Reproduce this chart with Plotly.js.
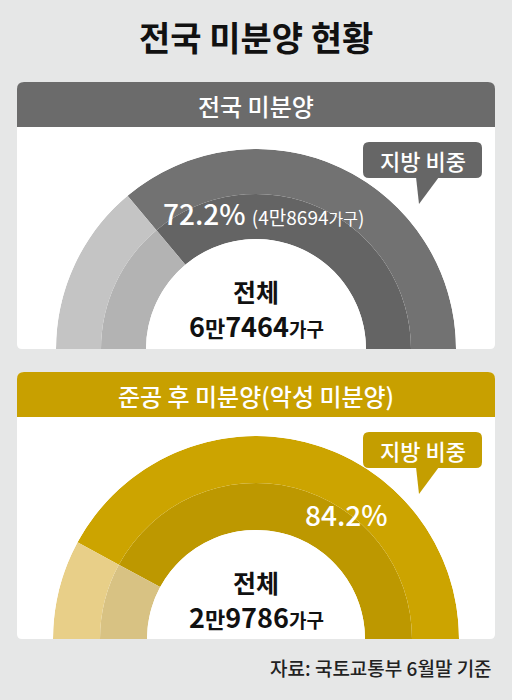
<!DOCTYPE html>
<html>
<head>
<meta charset="utf-8">
<script src="https://cdn.plot.ly/plotly-3.0.1.min.js"></script>
<style>
  html, body { margin: 0; padding: 0; background: #e6e7e7; overflow: hidden; }
  #chart { width: 512px; height: 700px; }
</style>
</head>
<body>
<div id="chart"></div>
<script>
// ---------- data ----------
const mainTitle = '전국 미분양 현황';
const panelTitles = ['전국 미분양', '준공 후 미분양(악성 미분양)'];
const segmentLabels = ['지방', '수도권'];
const localShares = [72.2, 84.2];          // 지방 비중 (%)
const localUnits = [48694, null];          // 지방 가구수
const totalUnits = [67464, 29786];         // 전체 가구수
const calloutText = '지방 비중';
const totalLabel = '전체';
const sourceText = '자료: 국토교통부 6월말 기준';

// ---------- styling ----------
const W = 512, H = 700;
const FONT = '"Noto Sans CJK KR", "Noto Sans", sans-serif';
const BG = '#e6e7e7';
const themes = [
  { header: '#6b6b6b', callout: '#666666',
    local: ['#646464', '#727272'], capital: ['#b3b3b3', '#c4c4c4'] },
  { header: '#c8a000', callout: '#c49e00',
    local: ['#bd9800', '#cca400'], capital: ['#d8c283', '#e8cf88'] }
];
const geo = [
  { top: 82, bottom: 349, headerBottom: 127, cx: 256, cy: 349, R: 200, hole: 0.55,
    calloutTop: 142, pctX: 263, pctY: 213, totalY: 291 },
  { top: 372, bottom: 639, headerBottom: 417, cx: 256, cy: 639, R: 203, hole: 0.537,
    calloutTop: 432, pctX: 346, pctY: 514, totalY: 582 }
];

const X = p => p / W;
const Y = p => 1 - p / H;
const pt = (x, y) => X(x) + ',' + Y(y);

function roundRect(x0, y0, x1, y1, rt, rb) {
  return 'M' + pt(x0, y0 + rt) + ' Q' + pt(x0, y0) + ' ' + pt(x0 + rt, y0) +
    ' L' + pt(x1 - rt, y0) + ' Q' + pt(x1, y0) + ' ' + pt(x1, y0 + rt) +
    ' L' + pt(x1, y1 - rb) + ' Q' + pt(x1, y1) + ' ' + pt(x1 - rb, y1) +
    ' L' + pt(x0 + rb, y1) + ' Q' + pt(x0, y1) + ' ' + pt(x0, y1 - rb) + ' Z';
}

function fmtMan(n) {
  return { man: Math.floor(n / 10000), rest: String(n % 10000).padStart(4, '0') };
}

const traces = [];
const shapes = [];
const annotations = [];
const layout = {
  width: W, height: H,
  margin: { l: 0, r: 0, t: 0, b: 0 },
  paper_bgcolor: BG, plot_bgcolor: BG,
  showlegend: false,
  font: { family: FONT },
  shapes: shapes, annotations: annotations
};

annotations.push({
  xref: 'paper', yref: 'paper', x: X(256), y: Y(37), xanchor: 'center', yanchor: 'middle',
  text: mainTitle, showarrow: false,
  font: { family: FONT, size: 34, color: '#111111', weight: 700 }
});

geo.forEach((g, i) => {
  const t = themes[i];
  const sub = i === 0 ? 'polar' : 'polar' + (i + 1);
  // panel body
  shapes.push({ type: 'path', xref: 'paper', yref: 'paper', layer: 'below',
    path: roundRect(17, g.top, 495, g.bottom, 7, 5),
    fillcolor: '#ffffff', line: { width: 0 } });
  // header
  shapes.push({ type: 'path', xref: 'paper', yref: 'paper', layer: 'below',
    path: roundRect(17, g.top, 495, g.headerBottom, 7, 0),
    fillcolor: t.header, line: { width: 0 } });
  annotations.push({
    xref: 'paper', yref: 'paper', x: X(256), y: Y((g.top + g.headerBottom) / 2 + 1),
    xanchor: 'center', yanchor: 'middle', showarrow: false,
    text: panelTitles[i], font: { family: FONT, size: 24, color: '#ffffff', weight: 500 }
  });

  // half donut via barpolar
  const share = localShares[i];
  const wLocal = share / 100 * 180;
  const wCap = (100 - share) / 100 * 180;
  traces.push({
    type: 'barpolar', subplot: sub, name: segmentLabels[0],
    r: [1, 1], base: [0, 1], theta: [wLocal / 2, wLocal / 2], width: [wLocal, wLocal],
    marker: { color: t.local, line: { width: 0 } }, hoverinfo: 'skip'
  });
  traces.push({
    type: 'barpolar', subplot: sub, name: segmentLabels[1],
    r: [1, 1], base: [0, 1], theta: [180 - wCap / 2, 180 - wCap / 2], width: [wCap, wCap],
    marker: { color: t.capital, line: { width: 0 } }, hoverinfo: 'skip'
  });
  layout[sub] = {
    domain: { x: [X(g.cx - g.R), X(g.cx + g.R)], y: [Y(g.cy), Y(g.cy - g.R)] },
    sector: [0, 180], hole: g.hole, bgcolor: 'rgba(0,0,0,0)',
    radialaxis: { range: [0, 2], visible: false, showgrid: false, showline: false, showticklabels: false, ticks: '' },
    angularaxis: { visible: false, showgrid: false, showline: false, showticklabels: false, ticks: '',
      rotation: 0, direction: 'counterclockwise', thetaunit: 'degrees' }
  };

  // callout
  const cy0 = g.calloutTop, cy1 = g.calloutTop + 36;
  shapes.push({ type: 'path', xref: 'paper', yref: 'paper', layer: 'above',
    path: roundRect(363, cy0, 482, cy1, 6, 6), fillcolor: t.callout, line: { width: 0 } });
  shapes.push({ type: 'path', xref: 'paper', yref: 'paper', layer: 'above',
    path: 'M' + pt(416, cy1 - 1) + ' L' + pt(439, cy1 - 1) + ' L' + pt(419, cy1 + 26) + ' Z',
    fillcolor: t.callout, line: { width: 0 } });
  annotations.push({
    xref: 'paper', yref: 'paper', x: X(422.5), y: Y((cy0 + cy1) / 2), xanchor: 'center', yanchor: 'middle',
    showarrow: false, text: calloutText, font: { family: FONT, size: 22, color: '#ffffff', weight: 500 }
  });

  // percent label
  let pctText = '<span style="font-size:28px">' + share.toFixed(1) + '%</span>';
  if (localUnits[i] != null) {
    const m = fmtMan(localUnits[i]);
    pctText += ' <span style="font-size:19px;font-weight:400">(' + m.man + '만' + m.rest +
      '<span style="font-size:16px">가구</span>)</span>';
  }
  annotations.push({
    xref: 'paper', yref: 'paper', x: X(g.pctX), y: Y(g.pctY), xanchor: 'center', yanchor: 'middle',
    showarrow: false, text: pctText, font: { family: FONT, size: 28, color: '#ffffff', weight: 500 }
  });

  // totals
  annotations.push({
    xref: 'paper', yref: 'paper', x: X(256), y: Y(g.totalY), xanchor: 'center', yanchor: 'middle',
    showarrow: false, text: totalLabel, font: { family: FONT, size: 25, color: '#111111', weight: 700 }
  });
  const tm = fmtMan(totalUnits[i]);
  annotations.push({
    xref: 'paper', yref: 'paper', x: X(256), y: Y(g.totalY + 34), xanchor: 'center', yanchor: 'middle',
    showarrow: false,
    text: tm.man + '<span style="font-size:22px">만</span>' + tm.rest +
      '<span style="font-size:19px">가구</span>',
    font: { family: FONT, size: 27, color: '#111111', weight: 700 }
  });
});

annotations.push({
  xref: 'paper', yref: 'paper', x: X(494), y: Y(667), xanchor: 'right', yanchor: 'middle',
  showarrow: false, text: sourceText, font: { family: FONT, size: 19, color: '#222222', weight: 500 }
});

Plotly.newPlot('chart', traces, layout, { staticPlot: true, displayModeBar: false });
</script>
</body>
</html>
